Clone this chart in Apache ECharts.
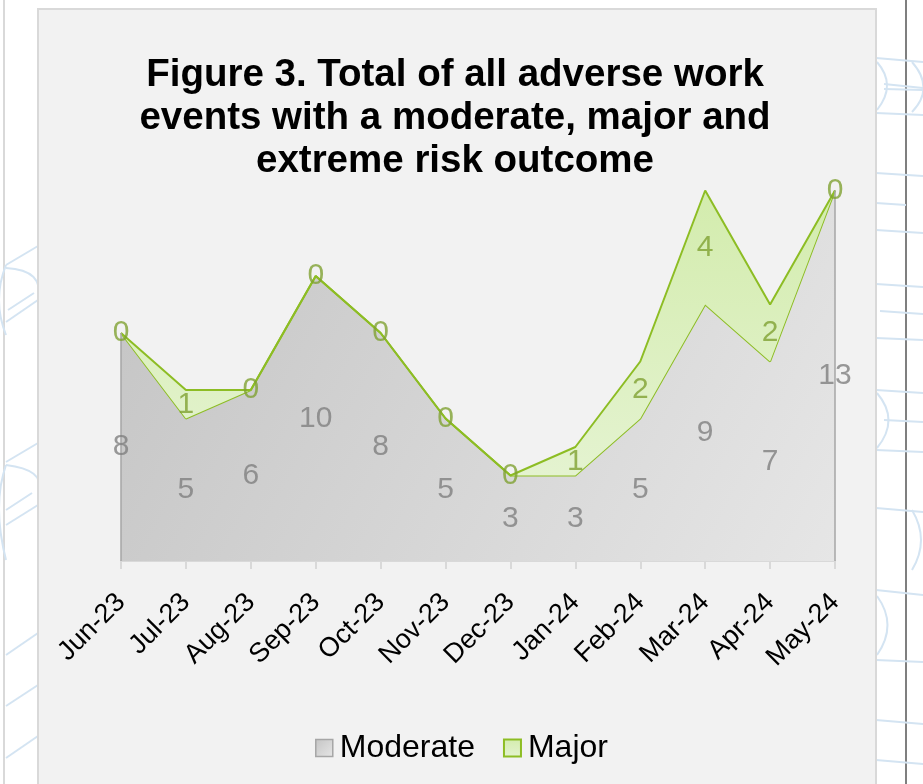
<!DOCTYPE html>
<html>
<head>
<meta charset="utf-8">
<script src="https://cdn.jsdelivr.net/npm/echarts@6/dist/echarts.min.js"></script>
<style>
  html, body { margin: 0; padding: 0; background: #ffffff; }
  #chart { width: 923px; height: 784px; }
</style>
</head>
<body>
<div id="chart"></div>
<script>
// Monthly totals of adverse work events by risk outcome
const months = ['Jun-23', 'Jul-23', 'Aug-23', 'Sep-23', 'Oct-23', 'Nov-23',
                'Dec-23', 'Jan-24', 'Feb-24', 'Mar-24', 'Apr-24', 'May-24'];
const moderate = [8, 5, 6, 10, 8, 5, 3, 3, 5, 9, 7, 13];
const major    = [0, 1, 0, 0, 0, 0, 0, 1, 2, 4, 2, 0];

const FONT = "'Liberation Sans', Arial, sans-serif";
const GREEN = '#8dbd24';
const EDGE_GRAY = '#a6a6a6';

const grayFill = new echarts.graphic.LinearGradient(0, 0, 1, 1, [
  { offset: 0, color: '#c4c4c4' },
  { offset: 1, color: '#e6e6e6' }
]);
const greenFill = new echarts.graphic.LinearGradient(0, 0, 0, 1, [
  { offset: 0, color: '#d3ecad' },
  { offset: 1, color: '#e4f3d0' }
]);

// label anchors sit in the middle of each stacked band
const moderateMid = moderate.map((v, i) => [i, v / 2]);
const majorMid = major.map((v, i) => [i, moderate[i] + v / 2]);

// light-blue page ornaments either side of the chart frame
const BLUE = '#d4e4f2';
function ln(x1, y1, x2, y2) {
  return { type: 'line', z: -20, silent: true,
    shape: { x1, y1, x2, y2 }, style: { stroke: BLUE, lineWidth: 2 } };
}
function curve(x1, y1, cx, cy, x2, y2) {
  return { type: 'bezierCurve', z: -20, silent: true,
    shape: { x1, y1, x2, y2, cpx1: cx, cpy1: cy },
    style: { stroke: BLUE, lineWidth: 2, fill: null } };
}
const ornaments = [
  // right margin
  ln(876, 58, 923, 62), curve(877, 62, 897, 85, 877, 110), ln(884, 84, 923, 88), ln(884, 89, 923, 90),
  curve(912, 62, 935, 88, 912, 112), ln(876, 113, 923, 115),
  ln(876, 173, 923, 176), ln(876, 203, 906, 205), ln(876, 230, 923, 233),
  ln(876, 284, 923, 287), ln(880, 311, 923, 314), ln(876, 338, 923, 340),
  ln(876, 390, 923, 393), curve(877, 393, 900, 420, 877, 448), ln(884, 420, 923, 422),
  ln(876, 450, 923, 452), ln(876, 508, 923, 512), curve(912, 510, 930, 540, 912, 570),
  ln(876, 590, 923, 595), curve(877, 596, 898, 625, 877, 655), ln(876, 660, 923, 662),
  ln(876, 720, 923, 724), ln(876, 760, 923, 764),
  // left margin
  ln(38, 246, 6, 265), curve(6, 268, 45, 270, 38, 300), ln(38, 300, 6, 322),
  curve(6, 265, -8, 300, 6, 335), ln(34, 293, 8, 310),
  ln(38, 443, 6, 462), curve(6, 465, 45, 470, 38, 490), curve(6, 465, -8, 505, 6, 560),
  ln(32, 493, 6, 510), ln(38, 505, 6, 525),
  ln(38, 633, 6, 655), ln(38, 685, 6, 706), ln(38, 736, 6, 758)
];

const chart = echarts.init(document.getElementById('chart'), null, { renderer: 'canvas' });

chart.setOption({
  backgroundColor: '#ffffff',
  animation: false,
  title: {
    text: 'Figure 3. Total of all adverse work\nevents with a moderate, major and\nextreme risk outcome',
    left: 450,
    top: 49,
    textAlign: 'center',
    textStyle: {
      fontFamily: FONT, fontSize: 38.5, fontWeight: 'bold', color: '#000000', lineHeight: 43
    }
  },
  graphic: {
    elements: [
      // page rules
      { type: 'rect', z: -30, silent: true, shape: { x: 3, y: 0, width: 2, height: 784 },
        style: { fill: '#d9d9d9' } },
      { type: 'rect', z: -30, silent: true, shape: { x: 905, y: 0, width: 2, height: 784 },
        style: { fill: '#7f7f7f' } },
      ...ornaments,
      // chart frame
      { type: 'rect', z: -10, silent: true, shape: { x: 38, y: 9, width: 838, height: 800 },
        style: { fill: '#f2f2f2', stroke: '#d9d9d9', lineWidth: 2 } }
    ]
  },
  legend: {
    left: 'center',
    top: 727,
    icon: 'rect',
    itemWidth: 17,
    itemHeight: 17,
    itemGap: 28,
    textStyle: { fontFamily: FONT, fontSize: 32, color: '#000000', padding: [0, 0, 0, 2] },
    data: [
      { name: 'Moderate', itemStyle: { color: grayFill, borderColor: EDGE_GRAY, borderWidth: 1.5 } },
      { name: 'Major', itemStyle: { color: greenFill, borderColor: GREEN, borderWidth: 2 } }
    ]
  },
  grid: { left: 121, right: 88, top: 162, bottom: 223, containLabel: false },
  xAxis: {
    type: 'category',
    data: months,
    boundaryGap: false,
    axisLine: { lineStyle: { color: '#d9d9d9', width: 2 } },
    axisTick: { show: true, length: 8, lineStyle: { color: '#d9d9d9', width: 2 } },
    axisLabel: {
      rotate: 45, margin: 37, interval: 0,
      fontFamily: FONT, fontSize: 27, color: '#000000'
    },
    splitLine: { show: false }
  },
  yAxis: {
    type: 'value', min: 0, max: 14, show: false, splitLine: { show: false }
  },
  series: [
    {
      name: 'Moderate',
      type: 'line',
      stack: 'total',
      data: moderate,
      symbol: 'none',
      lineStyle: { color: GREEN, width: 2 },
      itemStyle: { color: EDGE_GRAY },
      areaStyle: { color: grayFill, opacity: 1 },
      z: 2,
      markLine: {
        silent: true,
        symbol: 'none',
        label: { show: false },
        lineStyle: { color: EDGE_GRAY, width: 1.5, type: 'solid' },
        data: [
          [{ coord: [months[0], 0] }, { coord: [months[0], moderate[0]] }],
          [{ coord: [months[months.length - 1], 0] },
           { coord: [months[months.length - 1], moderate[moderate.length - 1]] }]
        ]
      }
    },
    {
      name: 'Major',
      type: 'line',
      stack: 'total',
      data: major,
      symbol: 'none',
      lineStyle: { color: GREEN, width: 2 },
      itemStyle: { color: GREEN },
      areaStyle: { color: greenFill, opacity: 1 },
      z: 3
    },
    {
      name: 'Moderate values',
      type: 'scatter',
      data: moderateMid,
      symbolSize: 1,
      itemStyle: { color: 'rgba(0,0,0,0)' },
      silent: true,
      z: 5,
      label: {
        show: true, position: 'inside',
        formatter: p => String(moderate[p.dataIndex]),
        fontFamily: FONT, fontSize: 30, color: '#7f7f7f'
      }
    },
    {
      name: 'Major values',
      type: 'scatter',
      data: majorMid,
      symbolSize: 1,
      itemStyle: { color: 'rgba(0,0,0,0)' },
      silent: true,
      z: 6,
      label: {
        show: true, position: 'inside',
        formatter: p => String(major[p.dataIndex]),
        fontFamily: FONT, fontSize: 30, color: '#7fa132'
      }
    }
  ]
});
</script>
</body>
</html>
